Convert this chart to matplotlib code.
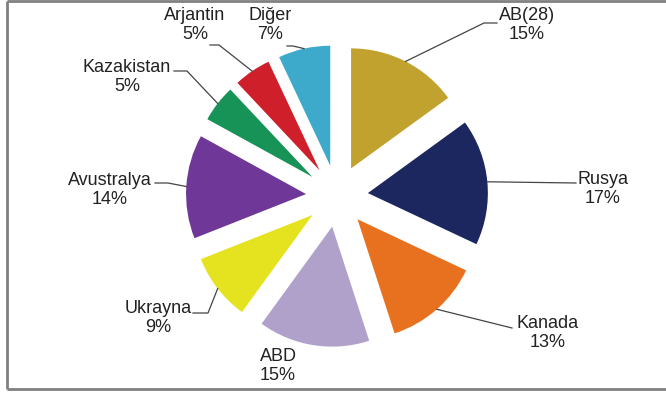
import numpy as np
import matplotlib
matplotlib.use('Agg')
import matplotlib.pyplot as plt

##############################
countries = ['AB(28)', 'Rusya', 'Kanada', 'ABD', 'Ukrayna',
             'Avustralya', 'Kazakistan', 'Arjantin', 'Diğer']
shares = [15, 17, 13, 15, 9, 14, 5, 5, 7]
colors = ['#C2A22F', '#1C2760', '#E8711F', '#B0A1CB', '#E5E21F',
          '#6F3797', '#189357', '#CF1F2A', '#3DAACB']
##############################

W, H = 666, 396
plt.rcParams['font.family'] = ['Liberation Sans', 'DejaVu Sans']

def px(x, y):
    # image pixel coords (y down) -> axes data coords (y up)
    return x, H - y

# label layout: text block centre, leader elbow, leader end (image pixels)
label_pos = [(527, 25), (603, 189), (548, 333), (278, 366), (158, 318),
             (110, 190), (127, 77), (195, 25), (270, 25)]
elbow_pos = [(484, 23), (576, 183), (512, 328), None, (208, 313),
             (168, 183), (187, 71), (219, 45), (293, 46)]
end_pos = [(497, 23), (576, 183), (512, 328), None, (193, 313),
           (155, 183), (174, 71), (210, 45), (287, 46)]

center = px(337, 196)
radius = 120
expl = 31

fig = plt.figure(figsize=(W / 100, H / 100), dpi=100)
ax = fig.add_axes([0, 0, 1, 1])
wedges, _ = ax.pie(shares, colors=colors, startangle=90, counterclock=False,
                   center=center, radius=radius, explode=[expl] * len(shares),
                   wedgeprops=dict(linewidth=0))
ax.set_xlim(0, W)
ax.set_ylim(0, H)
ax.set_aspect('equal')
ax.axis('off')

for i, (w, name, val) in enumerate(zip(wedges, countries, shares)):
    tm = np.deg2rad((w.theta1 + w.theta2) / 2)
    cx, cy = w.center
    ax_pt = (cx + radius * np.cos(tm), cy + radius * np.sin(tm))
    tx, ty = px(*label_pos[i])
    ax.text(tx, ty, f'{name}\n{val}%', ha='center', va='center',
            fontsize=13, color='#222222', linespacing=1.15)
    if elbow_pos[i] is not None:
        ex, ey = px(*elbow_pos[i])
        nx, ny = px(*end_pos[i])
        ax.plot([ax_pt[0], ex, nx], [ax_pt[1], ey, ny], color='#444444', lw=0.9)

# frame around the chart
ax.plot(*zip(px(7, 389), px(7, 1)), color='#808080', lw=2, solid_capstyle='butt')
ax.plot(*zip(px(7, 1), px(666, 1)), color='#808080', lw=2, solid_capstyle='butt')
ax.plot(*zip(px(7, 389), px(666, 389)), color='#808080', lw=2, solid_capstyle='butt')

fig.savefig('out.png', dpi=100)
